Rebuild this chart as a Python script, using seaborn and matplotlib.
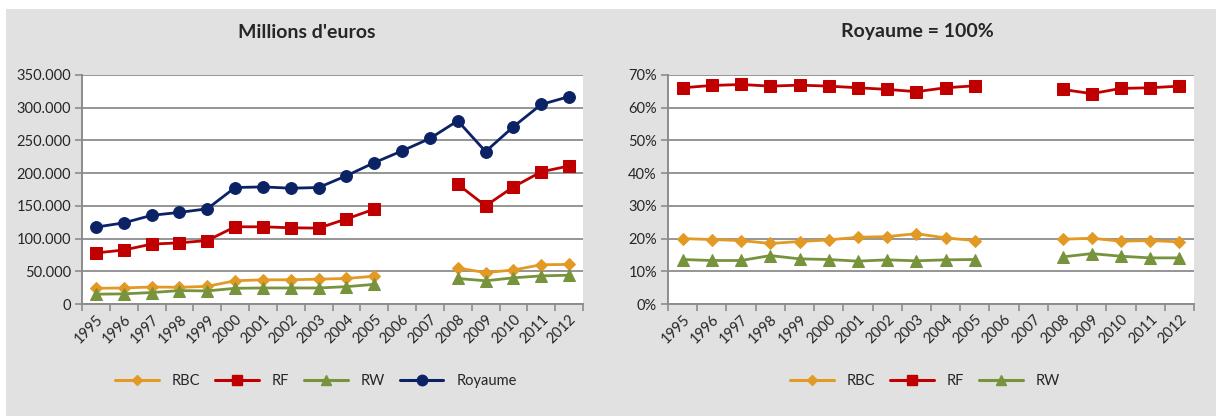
import numpy as np
import pandas as pd
import matplotlib
matplotlib.use("Agg")
import matplotlib.pyplot as plt
import seaborn as sns
from matplotlib.lines import Line2D
from matplotlib.patches import Rectangle
from matplotlib.ticker import FuncFormatter

sns.set_style("white")
plt.rcParams['font.family'] = ['Lato', 'DejaVu Sans']

# données
years = list(range(1995, 2013))
nan = np.nan

# millions d'euros
rbc_abs = [24000, 24500, 26000, 25500, 27000, 35500, 37000, 37000, 38000, 39000, 42500,
           nan, nan, 55000, 48000, 52000, 60000, 60500]
rf_abs = [78000, 82500, 91500, 93500, 97000, 118000, 118000, 116500, 116000, 130000, 145000,
          nan, nan, 183000, 150000, 179000, 202000, 211000]
rw_abs = [15000, 15500, 17500, 20500, 20000, 24000, 24500, 24500, 24500, 26500, 30000,
          nan, nan, 39000, 35500, 40000, 43000, 44000]
roy_abs = [117500, 124000, 135500, 140000, 145500, 178000, 179000, 177000, 178000, 196000, 216000,
           234000, 253000, 280000, 233000, 271000, 305000, 317000]

# Royaume = 100%
rbc_pct = [20.0, 19.7, 19.4, 18.5, 19.1, 19.6, 20.4, 20.6, 21.5, 20.2, 19.4,
           nan, nan, 19.8, 20.1, 19.2, 19.4, 19.0]
rf_pct = [66.1, 66.8, 67.1, 66.6, 66.9, 66.6, 66.1, 65.6, 64.9, 66.1, 66.7,
          nan, nan, 65.6, 64.3, 65.9, 66.1, 66.6]
rw_pct = [13.6, 13.3, 13.3, 14.8, 13.8, 13.6, 13.1, 13.5, 13.2, 13.5, 13.6,
          nan, nan, 14.4, 15.4, 14.6, 14.1, 14.1]

colors = {'RBC': '#E39A24', 'RF': '#C00000', 'RW': '#77933C', 'Royaume': '#0B2265'}
markers = {'RBC': 'D', 'RF': 's', 'RW': '^', 'Royaume': 'o'}
msizes = {'RBC': 6.5, 'RF': 8.5, 'RW': 8.5, 'Royaume': 8.5}
bg = '#E1E1E1'


def long_form(series):
    # une ligne par point, un numéro de segment qui change après chaque trou
    rows = []
    for name, vals in series.items():
        seg = 0
        for yr, v in zip(years, vals):
            if np.isnan(v):
                seg += 1
                continue
            rows.append({'annee': yr, 'valeur': v, 'serie': name, 'seg': seg})
    return pd.DataFrame(rows)


def draw_panel(ax, series, ylim, ystep, fmt):
    df = long_form(series)
    for name in series:
        sub = df[df['serie'] == name]
        sns.lineplot(data=sub, x='annee', y='valeur', units='seg', estimator=None,
                     color=colors[name], marker=markers[name], markersize=msizes[name],
                     markeredgecolor=colors[name], linewidth=2, ax=ax, legend=False,
                     zorder=3)
    ax.set_facecolor('white')
    ax.set_xlim(1994.5, 2012.5)
    ax.set_ylim(*ylim)
    ax.set_yticks(np.arange(ylim[0], ylim[1] + ystep / 2, ystep))
    ax.yaxis.set_major_formatter(FuncFormatter(fmt))
    ax.set_xticks(years)
    ax.set_xticklabels([str(y) for y in years], rotation=45, ha='right',
                       rotation_mode='anchor')
    ax.set_xticks(np.arange(1994.5, 2013, 1), minor=True)
    ax.tick_params(axis='x', which='major', length=0, pad=6, labelsize=10.5)
    ax.tick_params(axis='x', which='minor', length=5, color='#8C8C8C', width=1.2,
                   direction='out', bottom=True)
    ax.tick_params(axis='y', length=5, color='#8C8C8C', width=1.2, left=True,
                   labelsize=10.5, pad=3)
    ax.set_xlabel('')
    ax.set_ylabel('')
    ax.grid(axis='y', color='#8C8C8C', linewidth=1.3, zorder=1)
    for s in ['top', 'right']:
        ax.spines[s].set_visible(False)
    for s in ['left', 'bottom']:
        ax.spines[s].set_color('#8C8C8C')
        ax.spines[s].set_linewidth(1.4)


def add_legend(fig, xc, labels):
    handles = [Line2D([], [], color=colors[n], marker=markers[n], markersize=msizes[n] - 1,
                      linewidth=2.2) for n in labels]
    fig.legend(handles, labels, loc='center', bbox_to_anchor=(xc / 1216, 1 - 381 / 416),
               ncol=len(labels), frameon=False, fontsize=10.5,
               handlelength=3.0, columnspacing=1.0, handletextpad=0.9)


fig = plt.figure(figsize=(12.16, 4.16), dpi=100)
fig.patch.set_facecolor('white')
fig.patches.append(Rectangle((6 / 1216, 0), 1, 1 - 9 / 416, transform=fig.transFigure,
                             facecolor=bg, edgecolor='none', zorder=-10))

ax1 = fig.add_axes([82 / 1216, 1 - 304 / 416, 501 / 1216, 229 / 416])
ax2 = fig.add_axes([668 / 1216, 1 - 304 / 416, 526 / 1216, 229 / 416])

draw_panel(ax1, {'Royaume': roy_abs, 'RF': rf_abs, 'RBC': rbc_abs, 'RW': rw_abs},
           (0, 350000), 50000,
           lambda v, p: '0' if v == 0 else f'{int(v):,}'.replace(',', '.'))
draw_panel(ax2, {'RF': rf_pct, 'RBC': rbc_pct, 'RW': rw_pct},
           (0, 70), 10, lambda v, p: f'{int(round(v))}%')

fig.text(307 / 1216, 1 - 32 / 416, "Millions d'euros", ha='center', va='center',
         fontsize=14, fontweight='bold')
fig.text(917 / 1216, 1 - 32 / 416, 'Royaume = 100%', ha='center', va='center',
         fontsize=14, fontweight='bold')

add_legend(fig, 316, ['RBC', 'RF', 'RW', 'Royaume'])
add_legend(fig, 925, ['RBC', 'RF', 'RW'])

fig.savefig('out.png', dpi=100, facecolor=fig.get_facecolor())
